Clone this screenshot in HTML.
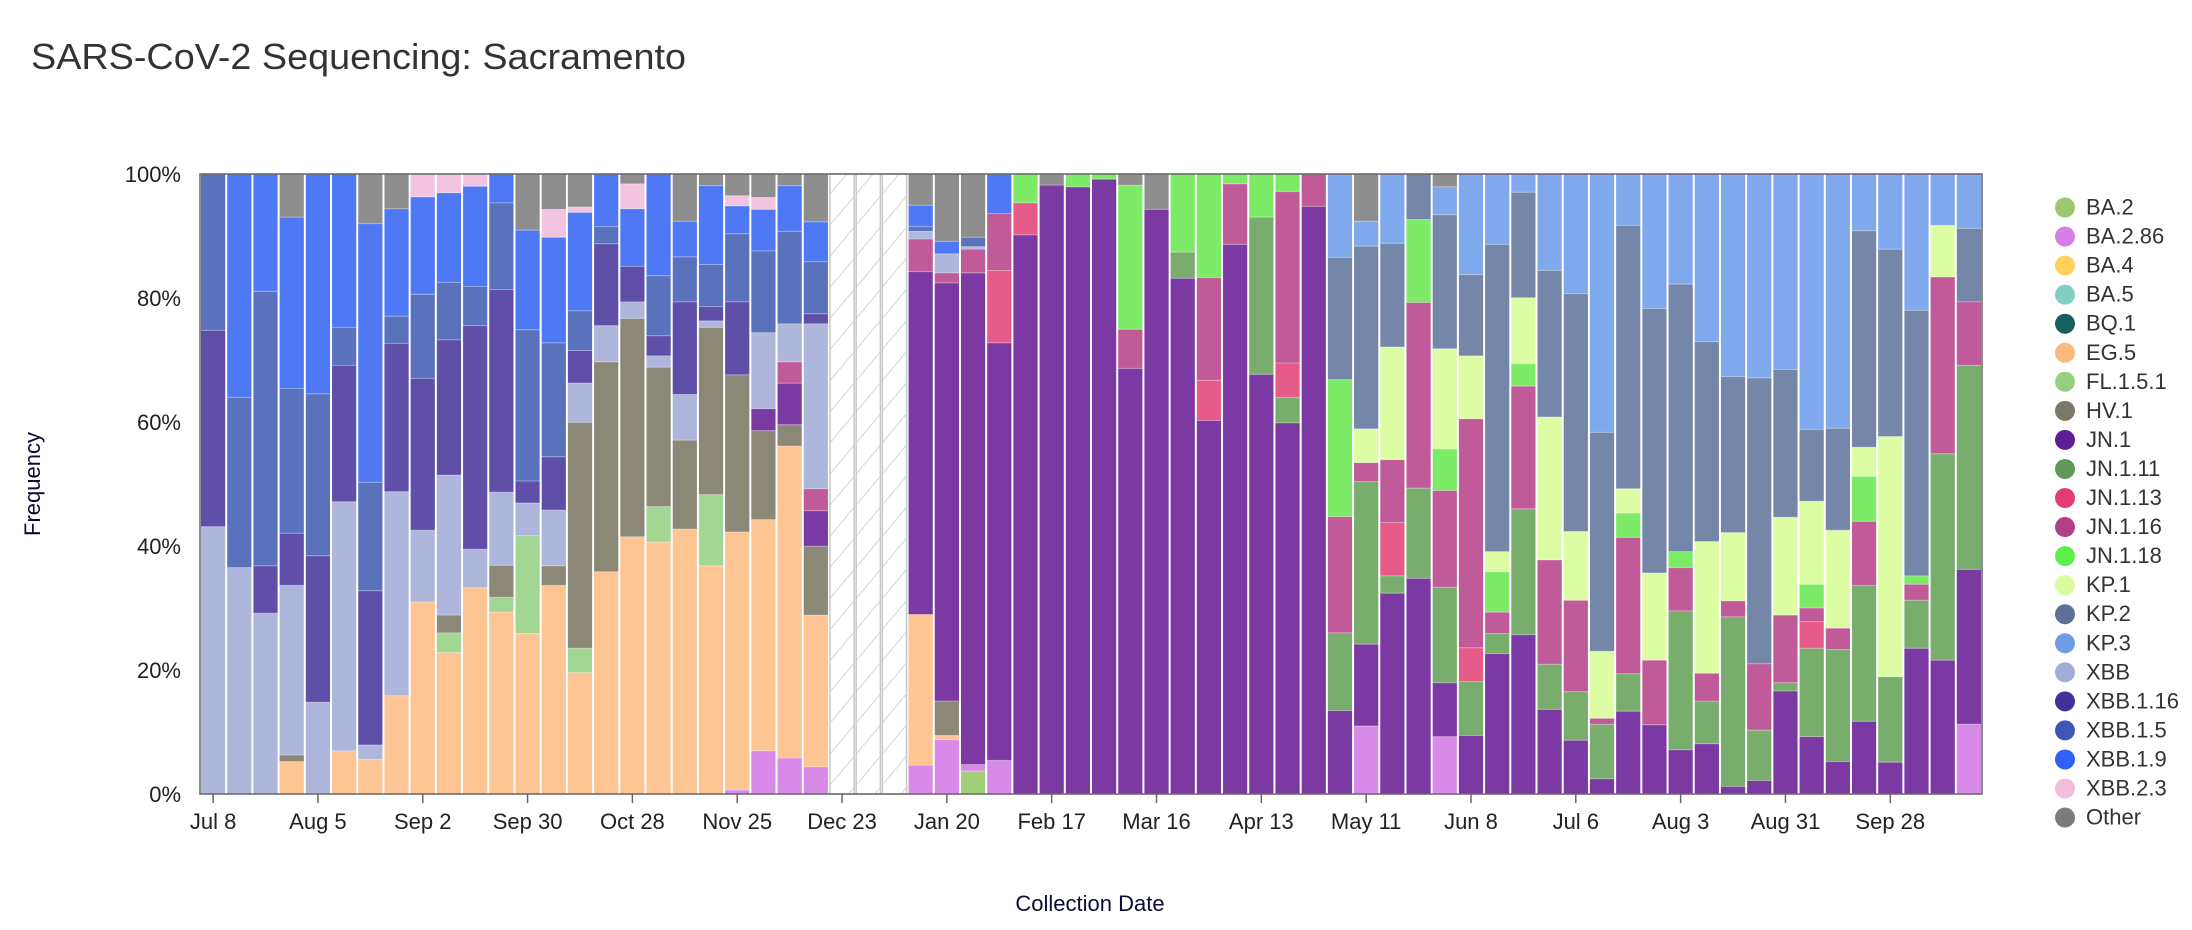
<!DOCTYPE html>
<html><head><meta charset="utf-8"><style>
html,body{margin:0;padding:0;background:#fff;}
svg{display:block;font-family:"Liberation Sans",Arial,sans-serif;}
</style></head><body>
<svg id="s" width="2192" height="930" viewBox="0 0 2192 930" xmlns="http://www.w3.org/2000/svg">
<defs>
<pattern id="hatch" width="20" height="20" patternUnits="userSpaceOnUse" patternTransform="rotate(40)">
<rect width="20" height="20" fill="#fff"/><line x1="0" y1="0" x2="0" y2="20" stroke="#d4d4d4" stroke-width="2"/>
</pattern>
</defs>
<text x="31" y="69" font-size="36" fill="#333" textLength="655" lengthAdjust="spacingAndGlyphs">SARS-CoV-2 Sequencing: Sacramento</text>
<g id="bars"></g>
<rect x="200" y="174" width="1782" height="620" fill="none" stroke="#666" stroke-width="1.5"/>
<g id="axes" font-size="22" fill="#222"></g>
<text transform="translate(40,484) rotate(-90)" text-anchor="middle" font-size="22" fill="#0b0b33">Frequency</text>
<text x="1090" y="911" text-anchor="middle" font-size="22" fill="#0b0b33">Collection Date</text>
<g id="legend" font-size="22" fill="#333"></g>
</svg>
<script>
var C={a:"#aeb6dc",b:"#5f4fa8",c:"#5a72bc",d:"#4f78f5",e:"#f3c4e0",o:"#8e8e8e",h:"#8b8878",g:"#fdc593",f:"#a3d694",j:"#7b3aa3",p:"#d88ae8",z:"#a3cf7a",s:"#c05a98",t:"#e65b8a",u:"#7deb67",v:"#79ad6d",k:"#dcfda3",m:"#7587a8",n:"#80a8ec"};
var D=[
"a888 b557 c293","a957 c670 d293","a1034 b954 c491 d293","g1284 h1273 a987 b899 c655 d366 o293",
"a1184 b937 c664 d293","g1266 a846 b616 c552 d293","g1280 a1256 b996 c813 d377 o293","g1173 a829 b579 c533 d352 o293",
"g1015 a894 b638 c496 d332 e293","g1100 f1067 h1037 a801 b573 c476 d325 e293","g991 a926 b549 c483 d314 e293",
"g1032 f1007 h953 a830 b488 c342 d293","g1068 f903 a848 b811 c556 d388 o293","g987 h954 a860 b770 c578 d400 e353 o293",
"g1134 f1093 h712 a646 b591 c524 d358 e349 o293","g964 h610 a549 b411 c382 d293","g905 h537 a509 b449 d352 e310 o293",
"g914 f854 h619 a600 b566 c465 d293","g892 h742 a665 b509 c433 d373 o293","g954 f834 h552 a541 b517 c446 d313 o293",
"p1332 g897 h632 b509 c394 d347 e330 o293","p1266 g876 h726 j689 a561 c423 d353 e333 o293",
"p1278 g752 h716 j646 s610 a546 c390 d313 o293","p1293 g1037 h921 j861 s824 a546 b529 c441 d374 o293",
"X","X","X",
"p1290 g1036 j458 s403 a390 c382 d346 o293","p1247 g1240 h1182 j477 s460 a428 d407 o293","z1300 p1289 j460 s420 a416 c400 o293",
"p1282 j578 t456 s360 d293","j396 t342 u293","j312 o293","j315 u293","j302 u293",
"j621 s555 u312 o293","j353 o293","j469 v425 u293","j709 t641 s468 u293","j412 s310 u293","j631 v366 u293",
"j713 v670 t612 s323 u293","j348 s293","j1198 v1067 s871 u640 m434 n293","p1224 j1086 v812 s780 k723 m415 n373 o293",
"j1000 v971 t881 s775 k585 m410 n293","j975 v823 s510 u370 m293","p1242 j1151 v990 s827 u757 k588 m362 n315 o293",
"j1240 v1149 t1092 s706 k600 m463 n293","j1102 v1068 s1032 u964 k930 m412 n293","j1070 v858 s651 u613 k502 m324 n293",
"j1196 v1120 s944 k703 m456 n293","j1248 v1166 s1012 k896 m495 n293","j1313 v1221 s1211 k1098 m729 n293",
"j1199 v1136 s906 u865 k824 m380 n293","j1222 s1113 k966 m520 n293","j1264 v1030 s957 u930 m479 n293",
"j1254 v1182 s1135 k913 m576 n293","j1326 v1040 s1013 k898 m635 n293","j1316 v1231 s1119 m637 n293",
"j1165 v1151 s1037 k872 m623 n293","j1242 v1093 t1048 s1025 u985 k845 m724 n293","j1284 v1095 s1059 k894 m722 n293",
"j1216 v987 s879 u803 k754 m389 n293","j1285 v1141 k736 m420 n293","j1093 v1012 s985 u971 m523 n293",
"j1113 v765 s467 k380 n293","p1221 j960 v616 s509 m385 n293"];
function Y(z){return 173.8+(z-293)*(619.8/1045);}
var h="",W=26.206;
D.forEach(function(s,i){
 var x=200+i*W+1,w=W-2;
 if(s=="X"){h+='<rect x="'+x+'" y="174" width="'+w+'" height="620" fill="url(#hatch)" stroke="#c8c8c8" stroke-width="1.5"/>';return;}
 var prev=794;
 s.split(" ").forEach(function(t){var c=t[0],top=Y(+t.slice(1));
  h+='<rect x="'+x.toFixed(2)+'" y="'+top.toFixed(2)+'" width="'+w.toFixed(2)+'" height="'+(prev-top).toFixed(2)+'" fill="'+C[c]+'"/>';
  if(prev<793.5)h+='<line x1="'+x.toFixed(2)+'" x2="'+(x+w).toFixed(2)+'" y1="'+prev.toFixed(2)+'" y2="'+prev.toFixed(2)+'" stroke="#fff" stroke-opacity="0.35" stroke-width="1"/>';
  prev=top;});
});
document.getElementById("bars").innerHTML=h;
var a="";
for(var k=0;k<=5;k++){var y=794-k*124;a+='<text x="181" y="'+(y+8)+'" text-anchor="end">'+(k*20)+'%</text>';}
var L=["Jul 8","Aug 5","Sep 2","Sep 30","Oct 28","Nov 25","Dec 23","Jan 20","Feb 17","Mar 16","Apr 13","May 11","Jun 8","Jul 6","Aug 3","Aug 31","Sep 28"];
L.forEach(function(l,i){var x=200+(i*4+0.5)*W;a+='<line x1="'+x+'" x2="'+x+'" y1="794" y2="803" stroke="#666" stroke-width="1.5"/><text x="'+x+'" y="829" text-anchor="middle">'+l+'</text>';});
document.getElementById("axes").innerHTML=a;
var G=[["BA.2","#9dc76c"],["BA.2.86","#d77de8"],["BA.4","#ffd15c"],["BA.5","#84cfc4"],["BQ.1","#15605e"],["EG.5","#fdb97e"],["FL.1.5.1","#93d180"],["HV.1","#7a7868"],["JN.1","#5e1e96"],["JN.1.11","#5e9a55"],["JN.1.13","#e23c74"],["JN.1.16","#b33d86"],["JN.1.18","#5ef04a"],["KP.1","#d9fda0"],["KP.2","#5d7098"],["KP.3","#6f9be8"],["XBB","#a3acd9"],["XBB.1.16","#45309a"],["XBB.1.5","#3d57b4"],["XBB.1.9","#3160f8"],["XBB.2.3","#f2bcdc"],["Other","#7b7b7b"]];
var g="";
G.forEach(function(e,i){var y=207.5+i*29.05;g+='<circle cx="2065" cy="'+y+'" r="10" fill="'+e[1]+'"/><text x="2086" y="'+(y+7)+'">'+e[0]+'</text>';});
document.getElementById("legend").innerHTML=g;
</script>
</body></html>
